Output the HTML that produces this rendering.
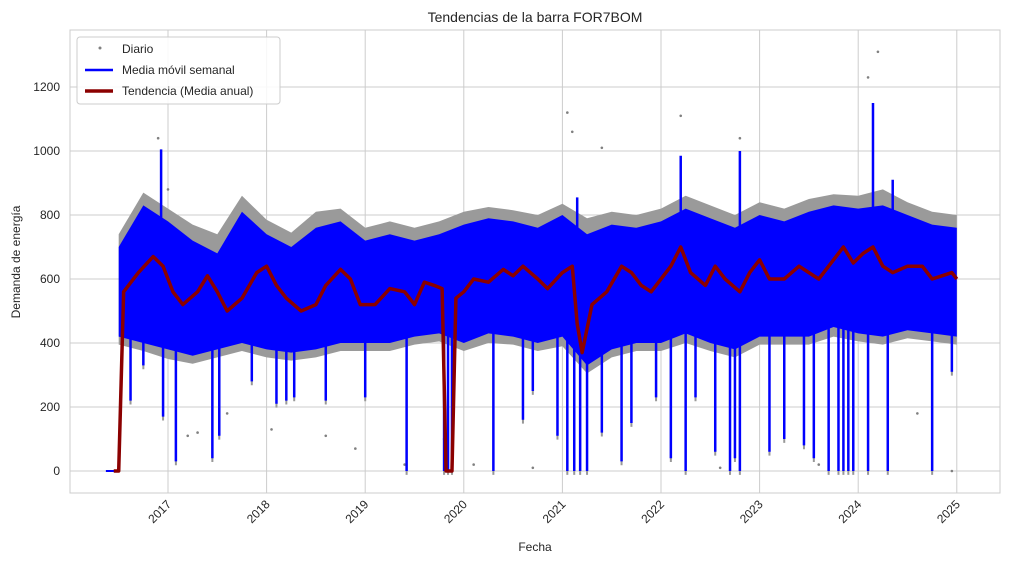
<!DOCTYPE html>
<html><head><meta charset="utf-8"><style>
body{margin:0;background:#fff;font-family:"Liberation Sans",sans-serif}
svg{display:block}
text{font-family:"Liberation Sans",sans-serif;fill:#262626}
</style></head><body>
<svg id="chart" width="1010" height="563"></svg>
<script>
// ---- data ----
const bandYears=[2016.5,2016.75,2017,2017.25,2017.5,2017.75,2018,2018.25,2018.5,2018.75,2019,2019.25,2019.5,2019.75,2020,2020.25,2020.5,2020.75,2021,2021.25,2021.5,2021.75,2022,2022.25,2022.5,2022.75,2023,2023.25,2023.5,2023.75,2024,2024.25,2024.5,2024.75,2025];
const weeklyHigh=[700,830,780,720,680,810,740,700,760,780,720,740,720,740,770,790,780,760,800,740,770,760,780,820,790,760,800,780,810,830,820,830,800,770,760];
const weeklyLow=[420,400,380,360,380,400,380,370,380,400,400,400,420,430,400,430,420,400,420,330,380,400,400,430,400,380,420,420,420,450,430,420,440,430,420];
const dailyHigh=[740,870,820,770,740,860,785,745,810,820,760,780,760,780,810,825,815,800,835,790,810,800,820,860,830,800,840,820,850,865,860,880,840,810,800];
const dailyLow=[395,375,350,335,355,375,355,345,355,375,375,375,395,405,375,400,395,375,390,305,355,375,375,400,375,355,395,395,395,420,405,395,415,405,395];
const trendYears=[2016.45,2016.5,2016.55,2016.7,2016.85,2016.95,2017.05,2017.15,2017.3,2017.4,2017.5,2017.6,2017.75,2017.9,2018,2018.1,2018.2,2018.35,2018.5,2018.6,2018.75,2018.85,2018.95,2019.1,2019.25,2019.4,2019.5,2019.6,2019.7,2019.78,2019.82,2019.88,2019.92,2020,2020.1,2020.25,2020.4,2020.5,2020.6,2020.75,2020.85,2021,2021.1,2021.15,2021.2,2021.3,2021.45,2021.6,2021.7,2021.8,2021.9,2022,2022.1,2022.2,2022.3,2022.45,2022.55,2022.65,2022.8,2022.9,2023,2023.1,2023.25,2023.4,2023.5,2023.6,2023.75,2023.85,2023.95,2024.05,2024.15,2024.25,2024.35,2024.5,2024.65,2024.75,2024.85,2024.95,2025];
const trendValues=[0,0,560,620,670,640,560,520,560,610,560,500,540,620,640,580,540,500,520,580,630,600,520,520,570,560,520,590,580,570,0,0,540,560,600,590,630,610,640,600,570,620,640,460,370,520,560,640,620,580,560,600,640,700,620,580,640,600,560,620,660,600,600,640,620,600,660,700,650,680,700,640,620,640,640,600,610,620,600];
const dipYears=[2016.62,2016.75,2016.95,2017.08,2017.45,2017.52,2017.85,2018.1,2018.2,2018.28,2018.6,2019.0,2019.42,2019.8,2019.84,2019.88,2020.3,2020.6,2020.7,2020.95,2021.05,2021.12,2021.18,2021.25,2021.4,2021.6,2021.7,2021.95,2022.1,2022.25,2022.35,2022.55,2022.7,2022.75,2022.8,2023.1,2023.25,2023.45,2023.55,2023.7,2023.8,2023.85,2023.9,2023.95,2024.1,2024.3,2024.75,2024.95];
const dipValues=[220,330,170,30,40,110,280,210,220,230,220,230,0,0,0,0,0,160,250,110,0,0,0,0,120,30,150,230,40,0,230,60,0,40,0,60,100,80,40,0,0,0,0,0,0,0,0,310];
const peakYears=[2016.93,2021.15,2022.2,2022.8,2024.15,2024.35];
const peakValues=[1005,855,985,1000,1150,910];
const outlierYears=[2016.9,2017.0,2017.3,2017.6,2018.05,2018.6,2019.4,2019.8,2020.7,2021.05,2021.1,2021.4,2022.2,2022.8,2023.1,2024.1,2024.2,2024.6,2024.95,2017.2,2018.9,2020.1,2022.6,2023.6];
const outlierValues=[1040,880,120,180,130,110,20,100,10,1120,1060,1010,1110,1040,600,1230,1310,180,0,110,70,20,10,20];
const yTicks=[0,200,400,600,800,1000,1200];
const xTicks=[2017,2018,2019,2020,2021,2022,2023,2024,2025];
// ---- scales ----
const L=70,R=1000,T=30,B=493;
const x=t=>168+(t-2017)*98.6;
const y=v=>471-v*0.32;
const svg=document.getElementById('chart');
const NS='http://www.w3.org/2000/svg';
function mk(tag,attrs,parent){const e=document.createElementNS(NS,tag);for(const k in attrs)e.setAttribute(k,attrs[k]);(parent||svg).appendChild(e);return e;}
const frame=mk('rect',{x:L,y:T,width:R-L,height:B-T,fill:'#fff',stroke:'#cccccc'});


yTicks.forEach(v=>{
 const g=mk('line',{x1:L,x2:R,y1:y(v),y2:y(v),stroke:'#cccccc'});
 
 
 const t=mk('text',{x:L-10,y:y(v)+4,'text-anchor':'end','font-size':12});
 t.textContent=v;
 
 
});
xTicks.forEach(v=>{
 const g=mk('line',{x1:x(v),x2:x(v),y1:T,y2:B,stroke:'#cccccc'});
 
 
 const t=mk('text',{x:x(v)+4,y:B+12,'text-anchor':'end','font-size':12,transform:`rotate(-45 ${x(v)+4} ${B+12})`});
 t.textContent=v;
 
 
});
function band(hi,lo,fill,name){
 let d='M'+bandYears.map((t,i)=>x(t)+','+y(hi[i])).join('L');
 d+='L'+bandYears.slice().reverse().map((t,i)=>x(t)+','+y(lo[lo.length-1-i])).join('L')+'Z';
 const p=mk('path',{d,fill});
 
 
}
band(dailyHigh,dailyLow,'#9a9a9a','daily-band');
dipYears.forEach((t,i)=>{const l=mk('line',{x1:x(t),x2:x(t),y1:y(420),y2:y(dipValues[i]-12),stroke:'#999',"stroke-width":2});
 
 });
outlierYears.forEach((t,i)=>{const c=mk('circle',{cx:x(t),cy:y(outlierValues[i]),r:1.3,fill:'#808080'});
 
 });
band(weeklyHigh,weeklyLow,'#0000ff','weekly-band');
dipYears.forEach((t,i)=>{const l=mk('line',{x1:x(t),x2:x(t),y1:y(450),y2:y(dipValues[i]),stroke:'#0000ff',"stroke-width":2.5});
 
 });
peakYears.forEach((t,i)=>{const l=mk('line',{x1:x(t),x2:x(t),y1:y(700),y2:y(peakValues[i]),stroke:'#0000ff',"stroke-width":2.5});
 
 });
const s=mk('line',{x1:x(2016.37),x2:x(2016.5),y1:y(0),y2:y(0),stroke:'#0000ff','stroke-width':2});


const tr=mk('polyline',{points:trendYears.map((t,i)=>x(t)+','+y(trendValues[i])).join(' '),fill:'none',stroke:'#8b0000','stroke-width':3.5,'stroke-linejoin':'round'});


</script>
<svg style="position:absolute;left:0;top:0" width="1010" height="563">
<text x="535" y="22" text-anchor="middle" font-size="14">Tendencias de la barra FOR7BOM</text>
<text x="535" y="551" text-anchor="middle" font-size="12">Fecha</text>
<text x="20" y="262" text-anchor="middle" font-size="12" transform="rotate(-90 20 262)">Demanda de energía</text>
<g>
<rect x="77" y="37" width="203" height="67" rx="3" fill="#fff" fill-opacity="0.85" stroke="#cccccc"/>
<circle cx="100" cy="48" r="1.5" fill="#808080"/>
<text x="122" y="53" font-size="12">Diario</text>
<line x1="85" x2="113" y1="70" y2="70" stroke="#0000ff" stroke-width="2.5"/>
<text x="122" y="74" font-size="12">Media móvil semanal</text>
<line x1="85" x2="113" y1="91" y2="91" stroke="#8b0000" stroke-width="3.5"/>
<text x="122" y="95" font-size="12">Tendencia (Media anual)</text>
</g>
</svg>
</body></html>
